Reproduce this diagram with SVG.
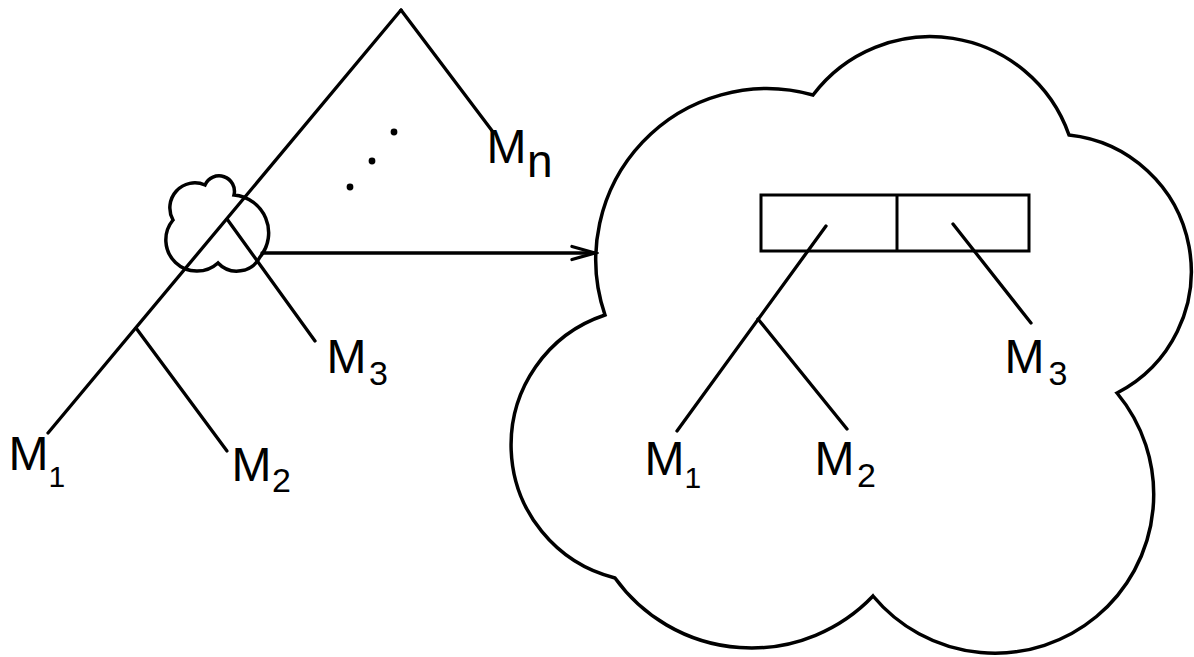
<svg xmlns="http://www.w3.org/2000/svg" width="1194" height="657" viewBox="0 0 1194 657">
  <style>
    .ln { fill: none; stroke: #000; stroke-width: 3.3; stroke-linecap: round; stroke-linejoin: round; }
    .cloud { fill: none; stroke: #000; stroke-width: 3.5; stroke-linejoin: miter; }
    .box { fill: none; stroke: #000; stroke-width: 3; }
    .lbl { font-family: "Liberation Sans", Arial, sans-serif; fill: #000; font-size: 48px; }
    .sub { font-family: "Liberation Sans", Arial, sans-serif; fill: #000; font-size: 34px; }
    .sub1 { font-family: "Liberation Sans", Arial, sans-serif; fill: #000; font-size: 30px; }
    .subn { font-family: "Liberation Sans", Arial, sans-serif; fill: #000; font-size: 46px; }
  </style>
  <defs>
    <marker id="open-arrow" viewBox="-26 -10 30 20" refX="0" refY="0" markerWidth="30" markerHeight="20" markerUnits="userSpaceOnUse" orient="auto">
      <path d="M-23,-6.5 L0,0 L-23,6.5" fill="none" stroke="#000" stroke-width="3.3" stroke-linecap="round" stroke-linejoin="miter"/>
    </marker>
  </defs>

  <rect x="0" y="0" width="1194" height="657" fill="#fff"/>

  <!-- tree edges and the expansion arrow -->
  <g id="connectors">
    <!-- left tree -->
    <path class="ln" d="M401,10 L48,433"/>
    <path class="ln" d="M401,10 L493,132"/>
    <path class="ln" d="M136,328 L227,451"/>
    <path class="ln" d="M227,219 L315,341"/>
    <!-- arrow from the small cloud to the big cloud -->
    <path class="ln" d="M262,253 L595,253" marker-end="url(#open-arrow)"/>
    <!-- tree inside the big cloud -->
    <path class="ln" d="M826,226 L677,431"/>
    <path class="ln" d="M758,319 L847,429"/>
    <path class="ln" d="M953,224 L1031,323"/>
  </g>

  <!-- ellipsis dots between the subtrees -->
  <g id="ellipsis">
    <circle cx="394" cy="132" r="3.4"/>
    <circle cx="372" cy="161" r="3.4"/>
    <circle cx="350" cy="187" r="3.4"/>
  </g>

  <!-- small cloud around the inner node -->
  <g id="small-cloud">
    <path class="cloud" d="M173,220 A25,25 0 0 1 205,185 A15.4,15.4 0 0 1 234,195 A38,38 0 0 1 260,257 A26,26 0 0 1 218,263 A31.2,31.2 0 0 1 173,220 Z"/>
  </g>

  <!-- big cloud: the expanded node -->
  <g id="big-cloud">
    <path class="cloud" d="M605,315 A171,171 0 0 1 813,95 A147,147 0 0 1 1069,135 A137,137 0 0 1 1117,393 A158.7,158.7 0 0 1 873,596 A168,168 0 0 1 615,578 A137,137 0 0 1 605,315 Z"/>
  </g>

  <!-- two-field record -->
  <g id="record">
    <rect class="box" x="761" y="195" width="268" height="56"/>
    <line class="box" x1="897" y1="195" x2="897" y2="251"/>
  </g>

  <!-- left tree labels -->
  <g id="label-left-m1">
    <text class="lbl" x="8.5" y="470">M</text>
    <text class="sub1" x="48.5" y="487">1</text>
  </g>
  <g id="label-left-m2">
    <text class="lbl" x="231.5" y="481">M</text>
    <text class="sub" x="272" y="492">2</text>
  </g>
  <g id="label-left-m3">
    <text class="lbl" x="326.5" y="373">M</text>
    <text class="sub" x="369" y="385">3</text>
  </g>
  <g id="label-mn">
    <text class="lbl" x="486.5" y="163">M</text>
    <text class="subn" x="527" y="177">n</text>
  </g>

  <!-- big cloud labels -->
  <g id="label-right-m1">
    <text class="lbl" x="644.5" y="475">M</text>
    <text class="sub1" x="684.5" y="488">1</text>
  </g>
  <g id="label-right-m2">
    <text class="lbl" x="814.5" y="475">M</text>
    <text class="sub" x="857" y="487">2</text>
  </g>
  <g id="label-right-m3">
    <text class="lbl" x="1004.5" y="373">M</text>
    <text class="sub" x="1048.5" y="385">3</text>
  </g>
</svg>
